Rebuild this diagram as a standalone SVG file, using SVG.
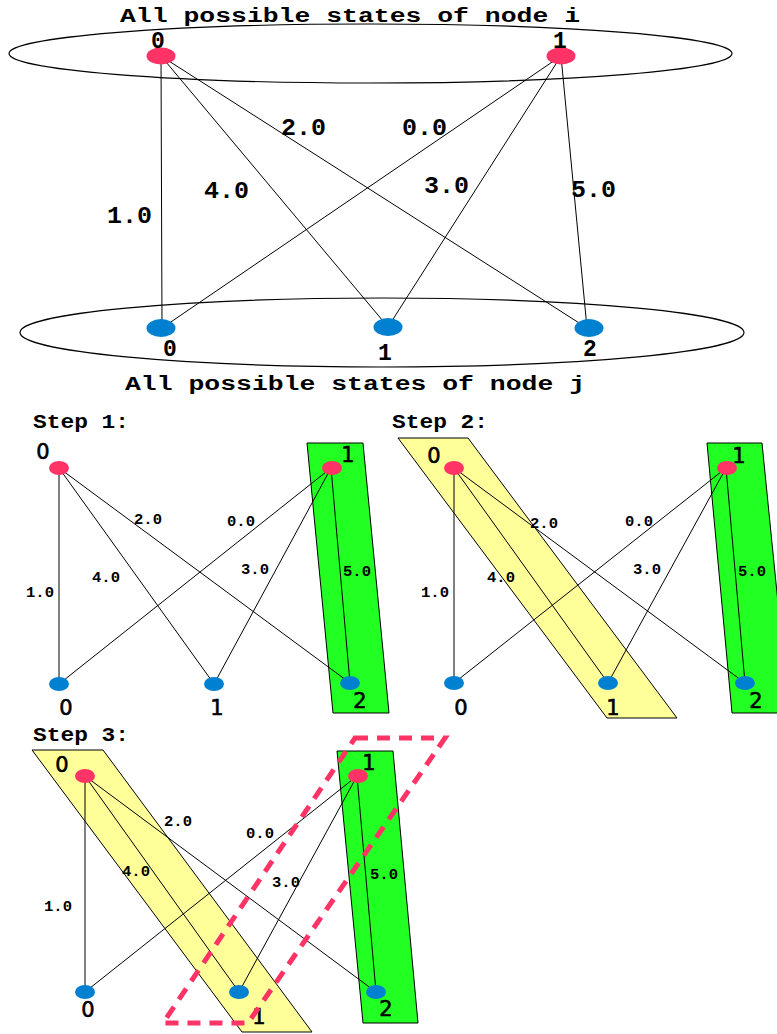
<svg xmlns="http://www.w3.org/2000/svg" width="777" height="1034" viewBox="0 0 777 1034">
<style>
.bg{fill:#ffffff}
.ring{fill:none;stroke:#000;stroke-width:1.2}
.e{stroke:#000;stroke-width:1;fill:none}
.ni{fill:#ff3366}
.nj{fill:#0080d0}
.grn{fill:#22ff22;stroke:#000;stroke-width:1}
.yel{fill:#ffff99;stroke:#000;stroke-width:1}
.sel{fill:none;stroke:#ff3366;stroke-width:5;stroke-dasharray:13 9}
.title{font-family:"Liberation Mono",monospace;font-weight:bold;font-size:20px;fill:#000}
.tl{font-family:"Liberation Mono",monospace;font-weight:bold;font-size:23px;fill:#000}
.sl{font-family:"Liberation Mono",monospace;font-weight:bold;font-size:14px;fill:#000}
.nl{font-family:"Liberation Mono",monospace;font-weight:bold;font-size:23px;fill:#000;text-anchor:middle}
.snl{font-family:"DejaVu Sans",sans-serif;font-size:21px;fill:#000;stroke:#000;stroke-width:0.6;text-anchor:middle}
</style>
<rect class="bg" x="0" y="0" width="777" height="1034"/>

<!-- Top overview -->
<g id="overview">
  <ellipse class="ring" cx="370.5" cy="53.5" rx="361.5" ry="29.5"/>
  <ellipse class="ring" cx="382" cy="332.5" rx="362" ry="34.5"/>
  <text class="title" x="120" y="22" textLength="460" lengthAdjust="spacingAndGlyphs">All possible states of node i</text>
  <text class="title" x="125" y="390" textLength="460" lengthAdjust="spacingAndGlyphs">All possible states of node j</text>
</g>
<g id="top-connectors">
  <line class="e" x1="161" y1="56" x2="162" y2="328"/>
  <line class="e" x1="161" y1="56" x2="388" y2="327"/>
  <line class="e" x1="161" y1="56" x2="587" y2="328"/>
  <line class="e" x1="561" y1="56" x2="162" y2="328"/>
  <line class="e" x1="561" y1="56" x2="388" y2="327"/>
  <line class="e" x1="561" y1="56" x2="587" y2="328"/>
  <text class="tl" x="281" y="135" textLength="45" lengthAdjust="spacingAndGlyphs">2.0</text>
  <text class="tl" x="402" y="135" textLength="45" lengthAdjust="spacingAndGlyphs">0.0</text>
  <text class="tl" x="204" y="198" textLength="45" lengthAdjust="spacingAndGlyphs">4.0</text>
  <text class="tl" x="424" y="193" textLength="45" lengthAdjust="spacingAndGlyphs">3.0</text>
  <text class="tl" x="107" y="223" textLength="45" lengthAdjust="spacingAndGlyphs">1.0</text>
  <text class="tl" x="571" y="197" textLength="45" lengthAdjust="spacingAndGlyphs">5.0</text>
</g>
<g id="top-i0"><ellipse class="ni" cx="161" cy="56" rx="14.5" ry="8.5"/><text class="nl" x="158" y="48">0</text></g>
<g id="top-i1"><ellipse class="ni" cx="561" cy="56" rx="14.5" ry="8.5"/><text class="nl" x="560" y="48">1</text></g>
<g id="top-j0"><ellipse class="nj" cx="161" cy="328" rx="14.5" ry="9"/><text class="nl" x="170" y="356">0</text></g>
<g id="top-j1"><ellipse class="nj" cx="388" cy="327" rx="14.5" ry="9"/><text class="nl" x="385" y="360">1</text></g>
<g id="top-j2"><ellipse class="nj" cx="589" cy="328" rx="14.5" ry="9"/><text class="nl" x="590" y="356">2</text></g>

<!-- Step 1 -->
<g id="step1">
  <text class="title" x="33" y="428" textLength="96" lengthAdjust="spacingAndGlyphs">Step 1:</text>
  <polygon class="grn" points="307,443 363,443 389,713 333,713"/>
</g>
<g id="step1-connectors">
  <line class="e" x1="59" y1="468" x2="59" y2="684"/>
  <line class="e" x1="59" y1="468" x2="214" y2="684"/>
  <line class="e" x1="59" y1="468" x2="350" y2="683"/>
  <line class="e" x1="331" y1="468" x2="59" y2="684"/>
  <line class="e" x1="331" y1="468" x2="214" y2="684"/>
  <line class="e" x1="331" y1="468" x2="350" y2="683"/>
  <text class="sl" x="134" y="524" textLength="28" lengthAdjust="spacingAndGlyphs">2.0</text>
  <text class="sl" x="227" y="526" textLength="28" lengthAdjust="spacingAndGlyphs">0.0</text>
  <text class="sl" x="92" y="582" textLength="28" lengthAdjust="spacingAndGlyphs">4.0</text>
  <text class="sl" x="241" y="574" textLength="28" lengthAdjust="spacingAndGlyphs">3.0</text>
  <text class="sl" x="26" y="597" textLength="28" lengthAdjust="spacingAndGlyphs">1.0</text>
  <text class="sl" x="343" y="576" textLength="28" lengthAdjust="spacingAndGlyphs">5.0</text>
</g>
<g id="s1-i0"><ellipse class="ni" cx="59" cy="468" rx="10" ry="7"/><text class="snl" x="43" y="459">0</text></g>
<g id="s1-i1"><ellipse class="ni" cx="332" cy="468" rx="10" ry="7"/><text class="snl" x="348" y="462">1</text></g>
<g id="s1-j0"><ellipse class="nj" cx="59" cy="684" rx="10" ry="7"/><text class="snl" x="66" y="715">0</text></g>
<g id="s1-j1"><ellipse class="nj" cx="214" cy="684" rx="10" ry="7"/><text class="snl" x="217" y="715">1</text></g>
<g id="s1-j2"><ellipse class="nj" cx="350" cy="683" rx="10" ry="7"/><text class="snl" x="360" y="708">2</text></g>

<!-- Step 2 -->
<g id="step2">
  <text class="title" x="392" y="428" textLength="96" lengthAdjust="spacingAndGlyphs">Step 2:</text>
  <polygon class="yel" points="398,438 468,438 677,718 607,718"/>
  <polygon class="grn" points="707,443 762,443 789,713 732,713"/>
</g>
<g id="step2-connectors">
  <line class="e" x1="454" y1="468" x2="454" y2="683"/>
  <line class="e" x1="454" y1="468" x2="608" y2="683"/>
  <line class="e" x1="454" y1="468" x2="745" y2="683"/>
  <line class="e" x1="726" y1="468" x2="454" y2="683"/>
  <line class="e" x1="726" y1="468" x2="608" y2="683"/>
  <line class="e" x1="726" y1="468" x2="745" y2="683"/>
  <text class="sl" x="530" y="528" textLength="28" lengthAdjust="spacingAndGlyphs">2.0</text>
  <text class="sl" x="625" y="526" textLength="28" lengthAdjust="spacingAndGlyphs">0.0</text>
  <text class="sl" x="487" y="582" textLength="28" lengthAdjust="spacingAndGlyphs">4.0</text>
  <text class="sl" x="633" y="574" textLength="28" lengthAdjust="spacingAndGlyphs">3.0</text>
  <text class="sl" x="421" y="597" textLength="28" lengthAdjust="spacingAndGlyphs">1.0</text>
  <text class="sl" x="738" y="576" textLength="28" lengthAdjust="spacingAndGlyphs">5.0</text>
</g>
<g id="s2-i0"><ellipse class="ni" cx="454" cy="468" rx="10" ry="7"/><text class="snl" x="434" y="463">0</text></g>
<g id="s2-i1"><ellipse class="ni" cx="727" cy="468" rx="10" ry="7"/><text class="snl" x="739" y="463">1</text></g>
<g id="s2-j0"><ellipse class="nj" cx="454" cy="683" rx="10" ry="7"/><text class="snl" x="461" y="715">0</text></g>
<g id="s2-j1"><ellipse class="nj" cx="608" cy="683" rx="10" ry="7"/><text class="snl" x="613" y="715">1</text></g>
<g id="s2-j2"><ellipse class="nj" cx="745" cy="683" rx="10" ry="7"/><text class="snl" x="756" y="708">2</text></g>

<!-- Step 3 -->
<g id="step3">
  <text class="title" x="33" y="741" textLength="96" lengthAdjust="spacingAndGlyphs">Step 3:</text>
  <polygon class="yel" points="32,750 103,750 312,1032 242,1032"/>
  <polygon class="grn" points="337,751 393,751 418,1023 363,1023"/>
</g>
<g id="step3-connectors">
  <line class="e" x1="85" y1="776" x2="85" y2="992"/>
  <line class="e" x1="85" y1="776" x2="239" y2="992"/>
  <line class="e" x1="85" y1="776" x2="376" y2="992"/>
  <line class="e" x1="357" y1="776" x2="85" y2="992"/>
  <line class="e" x1="357" y1="776" x2="239" y2="992"/>
  <line class="e" x1="357" y1="776" x2="376" y2="992"/>
  <text class="sl" x="164" y="826" textLength="28" lengthAdjust="spacingAndGlyphs">2.0</text>
  <text class="sl" x="246" y="838" textLength="28" lengthAdjust="spacingAndGlyphs">0.0</text>
  <text class="sl" x="122" y="876" textLength="28" lengthAdjust="spacingAndGlyphs">4.0</text>
  <text class="sl" x="272" y="887" textLength="28" lengthAdjust="spacingAndGlyphs">3.0</text>
  <text class="sl" x="44" y="911" textLength="28" lengthAdjust="spacingAndGlyphs">1.0</text>
  <text class="sl" x="370" y="879" textLength="28" lengthAdjust="spacingAndGlyphs">5.0</text>
</g>
<g id="s3-i0"><ellipse class="ni" cx="85" cy="776" rx="10" ry="7"/><text class="snl" x="62" y="772">0</text></g>
<g id="s3-i1"><ellipse class="ni" cx="358" cy="776" rx="10" ry="7"/><text class="snl" x="369" y="770">1</text></g>
<g id="s3-j0"><ellipse class="nj" cx="85" cy="992" rx="10" ry="7"/><text class="snl" x="88" y="1017">0</text></g>
<g id="s3-j1"><ellipse class="nj" cx="239" cy="992" rx="10" ry="7"/><text class="snl" x="259" y="1024">1</text></g>
<g id="s3-j2"><ellipse class="nj" cx="376" cy="992" rx="10" ry="7"/><text class="snl" x="386" y="1016">2</text></g>
<g id="s3-selection">
  <polygon class="sel" points="355,738 445,738 248,1023 163,1023"/>
</g>
</svg>
